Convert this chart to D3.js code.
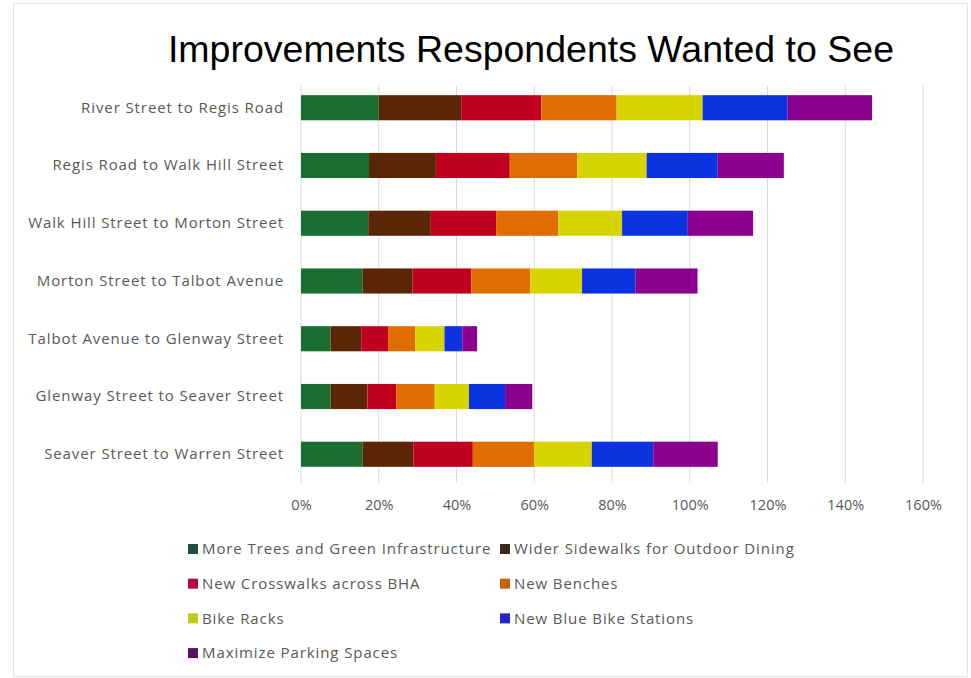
<!DOCTYPE html>
<html>
<head>
<meta charset="utf-8">
<script src="https://cdn.jsdelivr.net/npm/d3@7"></script>
<style>
  html, body { margin: 0; padding: 0; background: #fff; }
  svg { display: block; }
</style>
</head>
<body>
<svg id="chart" width="971" height="678"></svg>
<script>
const categories = [
  "River Street to Regis Road",
  "Regis Road to Walk Hill Street",
  "Walk Hill Street to Morton Street",
  "Morton Street to Talbot Avenue",
  "Talbot Avenue to Glenway Street",
  "Glenway Street to Seaver Street",
  "Seaver Street to Warren Street"
];
const seriesNames = [
  "More Trees and Green Infrastructure",
  "Wider Sidewalks for Outdoor Dining",
  "New Crosswalks across BHA",
  "New Benches",
  "Bike Racks",
  "New Blue Bike Stations",
  "Maximize Parking Spaces"
];
// values in percent, one array per series, in category order
const trees     = [20.0, 17.5, 17.3, 15.8, 7.6, 7.6, 15.8];
const sidewalks = [21.2, 17.2, 16.1, 12.9, 7.9, 9.5, 13.1];
const crosswalks= [20.6, 19.0, 16.8, 15.1, 6.9, 7.4, 15.3];
const benches   = [19.4, 17.4, 16.0, 15.2, 7.0, 9.9, 15.8];
const bikeRacks = [22.1, 17.8, 16.4, 13.3, 7.5, 8.8, 14.8];
const blueBikes = [21.9, 18.3, 16.9, 13.7, 4.6, 9.3, 15.8];
const parking   = [21.7, 17.0, 16.8, 16.0, 3.8, 7.0, 16.6];
const seriesValues = [trees, sidewalks, crosswalks, benches, bikeRacks, blueBikes, parking];
const tickValues = [0, 20, 40, 60, 80, 100, 120, 140, 160];
const colors = ["#1b6e31", "#5b2606", "#c0001f", "#e06d00", "#d8d400", "#0b33e0", "#8c008e"];
const legendColors = ["#1f5040", "#3a2a18", "#b00c3c", "#c86200", "#bccc1c", "#2424c4", "#5a1060"];

const svg = d3.select("#chart");

// frame
svg.append("rect").attr("x", 13.5).attr("y", 3.5).attr("width", 954).attr("height", 673)
  .attr("fill", "none").attr("stroke", "#e4e4e4").attr("stroke-width", 1);

// title
svg.append("text")
  .attr("x", 531).attr("y", 62)
  .attr("text-anchor", "middle")
  .attr("font-family", "Liberation Sans, Arial, sans-serif")
  .attr("font-size", 37.5)
  .attr("fill", "#000")
  .text("Improvements Respondents Wanted to See");

const x = d3.scaleLinear().domain([0, 160]).range([301, 923]);
const y = d3.scaleBand().domain(categories).range([79, 483]).paddingInner(0.565).paddingOuter(0.28);

// gridlines
svg.append("g").selectAll("line").data(tickValues).join("line")
  .attr("x1", d => x(d)).attr("x2", d => x(d))
  .attr("y1", 86).attr("y2", 483)
  .attr("stroke", "#d9d9d9").attr("stroke-width", 1);

// stacked data
const rows = categories.map((c, i) => {
  const o = { cat: c };
  seriesNames.forEach((s, j) => o[s] = seriesValues[j][i]);
  return o;
});
const stack = d3.stack().keys(seriesNames)(rows);

svg.append("g").selectAll("g").data(stack).join("g")
  .attr("fill", (d, i) => colors[i])
  .selectAll("rect").data(d => d).join("rect")
  .attr("x", d => x(d[0]))
  .attr("width", d => x(d[1]) - x(d[0]))
  .attr("y", d => y(d.data.cat))
  .attr("height", y.bandwidth());

// category labels
const yAxis = svg.append("g").attr("transform", "translate(301,0)")
  .call(d3.axisLeft(y).tickSize(0).tickPadding(17));
yAxis.select(".domain").remove();
yAxis.selectAll("text")
  .attr("font-family", "Open Sans, sans-serif")
  .attr("font-size", 15)
  .attr("letter-spacing", "0.9px")
  .attr("fill", "#595959");

// x axis labels
const xAxis = svg.append("g").attr("transform", "translate(0,483)")
  .call(d3.axisBottom(x).tickValues(tickValues).tickSize(0).tickPadding(17).tickFormat(d => d + "%"));
xAxis.select(".domain").remove();
xAxis.selectAll("text")
  .attr("font-family", "Open Sans, sans-serif")
  .attr("font-size", 14.5)
  .attr("fill", "#595959");

// legend
const legendX = [188, 500];
const legendY0 = 549, legendDY = 34.7;
const lg = svg.append("g").selectAll("g").data(seriesNames).join("g")
  .attr("transform", (d, i) => `translate(${legendX[i % 2]},${legendY0 + Math.floor(i / 2) * legendDY})`);
lg.append("rect").attr("x", 0).attr("y", -5).attr("width", 10).attr("height", 10)
  .attr("fill", (d, i) => legendColors[i]);
lg.append("text").attr("x", 14).attr("y", 0).attr("dy", "0.35em")
  .attr("font-family", "Open Sans, sans-serif")
  .attr("font-size", 15)
  .attr("letter-spacing", "0.9px")
  .attr("fill", "#595959")
  .text(d => d);
</script>
</body>
</html>
